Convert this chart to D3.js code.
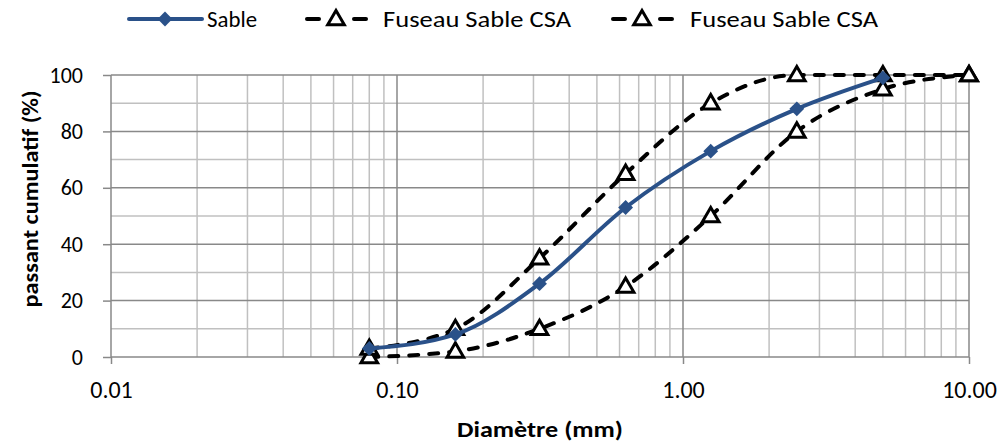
<html>
<head>
<script src="https://d3js.org/d3.v7.min.js"></script>
<style>
  body { margin: 0; background: #fff; }
  text { font-family: Carlito, Lato, "Open Sans", sans-serif; fill: #000; }
  .axis-title { font-size: 23px; font-weight: bold; }
  .legend-text { font-size: 23px; }
</style>
</head>
<body>
<svg width="1003" height="444" class="vis"></svg>
<script>
// sieve sizes (mm)
const sizes = [0.08, 0.16, 0.315, 0.63, 1.25, 2.5, 5, 10];
const sable = [3, 8, 26, 53, 73, 88, 99];
const fuseauHaut = [3, 10, 35, 65, 90, 100, 100, 100];
const fuseauBas = [0, 2, 10, 25, 50, 80, 95, 100];
const xTicks = [0.01, 0.1, 1, 10];
const yTicks = [0, 20, 40, 60, 80, 100];
const legendNames = ["Sable", "Fuseau Sable CSA", "Fuseau Sable CSA"];

const pLeft = 111, pRight = 969, pTop = 75, pBottom = 357;
const blue = "#2a5189";
const font = "Carlito, Lato, 'Open Sans', sans-serif";

const svg = d3.select(".vis");
const xs = d3.scaleLog().domain([0.01, 10]).range([pLeft, pRight]);
const ys = d3.scaleLinear().domain([0, 100]).range([pBottom, pTop]);

// grid
const minor = [];
for (let e = -2; e < 1; e++) for (let k = 2; k <= 9; k++) minor.push(k * Math.pow(10, e));
svg.append("g").selectAll("line").data(minor).enter().append("line")
  .attr("x1", d => xs(d)).attr("x2", d => xs(d))
  .attr("y1", pTop).attr("y2", pBottom)
  .attr("stroke", "#c0c0c0").attr("stroke-width", 1.5);
svg.append("g").selectAll("line").data(d3.range(10, 100, 20)).enter().append("line")
  .attr("x1", pLeft).attr("x2", pRight)
  .attr("y1", d => ys(d)).attr("y2", d => ys(d))
  .attr("stroke", "#c0c0c0").attr("stroke-width", 1.5);
svg.append("g").selectAll("line").data(yTicks.slice(1)).enter().append("line")
  .attr("x1", pLeft).attr("x2", pRight)
  .attr("y1", d => ys(d)).attr("y2", d => ys(d))
  .attr("stroke", "#898989").attr("stroke-width", 1.5);
svg.append("g").selectAll("line").data(xTicks.slice(1)).enter().append("line")
  .attr("x1", d => xs(d)).attr("x2", d => xs(d))
  .attr("y1", pTop).attr("y2", pBottom)
  .attr("stroke", "#898989").attr("stroke-width", 1.5);

// axes
const yAxis = d3.axisLeft(ys).tickValues(yTicks).tickSize(8).tickPadding(20).tickFormat(d3.format("d"));
const gy = svg.append("g").attr("transform", `translate(${pLeft},0)`).call(yAxis);
const xAxis = d3.axisBottom(xs).tickValues(xTicks).tickSize(7).tickPadding(17).tickFormat(d3.format(".2f"));
const gx = svg.append("g").attr("transform", `translate(0,${pBottom})`).call(xAxis);
[gx, gy].forEach(g => {
  g.attr("font-size", null).attr("font-family", null);
  g.select(".domain").attr("stroke", "#898989").attr("stroke-width", 1.5);
  g.selectAll(".tick line").attr("stroke", "#898989").attr("stroke-width", 1.5);
  g.selectAll(".tick text").style("font-family", font);
});
gy.selectAll(".tick text").style("font-size", "22px");
gx.selectAll(".tick text").style("font-size", "24px");
gy.select(".domain").attr("d", `M0,${pTop}V${pBottom}`);
gx.select(".domain").attr("d", `M${pLeft},0H${pRight}`);

svg.append("text").attr("class", "axis-title").attr("text-anchor", "middle")
  .attr("x", 540).attr("y", 437).attr("textLength", 166).attr("lengthAdjust", "spacingAndGlyphs")
  .text("Diamètre (mm)");
svg.append("text").attr("class", "axis-title").attr("text-anchor", "middle")
  .attr("transform", `translate(38,199) rotate(-90)`)
  .attr("textLength", 217).attr("lengthAdjust", "spacingAndGlyphs")
  .text("passant cumulatif (%)");

// series
const line = d3.line().x(d => xs(d[0])).y(d => ys(d[1])).curve(d3.curveMonotoneX);
const tri = d3.symbol().type(d3.symbolTriangle).size(120);
const squareDiamond = {
  draw(ctx, size) {
    const r = Math.sqrt(size / 2);
    ctx.moveTo(0, -r); ctx.lineTo(r, 0); ctx.lineTo(0, r); ctx.lineTo(-r, 0); ctx.closePath();
  }
};
const dia = d3.symbol().type(squareDiamond).size(110);

function dashedSeries(vals) {
  const pts = sizes.map((s, i) => [s, vals[i]]);
  svg.append("path").attr("d", line(pts)).attr("fill", "none")
    .attr("stroke", "#000").attr("stroke-width", 4).attr("stroke-dasharray", "9,11")
    .attr("stroke-linecap", "round");
  svg.append("g").selectAll("path").data(pts).enter().append("path")
    .attr("d", tri).attr("transform", d => `translate(${xs(d[0])},${ys(d[1]) + 1})`)
    .attr("fill", "#fff").attr("stroke", "#000").attr("stroke-width", 3);
}
dashedSeries(fuseauBas);
dashedSeries(fuseauHaut);

const sPts = sable.map((v, i) => [sizes[i], v]);
svg.append("path").attr("d", line(sPts)).attr("fill", "none")
  .attr("stroke", blue).attr("stroke-width", 4);
svg.append("g").selectAll("path").data(sPts).enter().append("path")
  .attr("d", dia).attr("transform", d => `translate(${xs(d[0])},${ys(d[1])})`)
  .attr("fill", blue);

// legend
const lg = svg.append("g");
const legX = [129, 305, 611];
const legText = [207, 383, 690];
const legLen = [50, 188, 188];
const ly = 19;
legX.forEach((x0, i) => {
  if (i === 0) {
    lg.append("line").attr("x1", x0).attr("x2", x0 + 73).attr("y1", ly).attr("y2", ly)
      .attr("stroke", blue).attr("stroke-width", 4).attr("stroke-linecap", "round");
    lg.append("path").attr("d", dia).attr("transform", `translate(${x0 + 36},${ly})`).attr("fill", blue);
  } else {
    lg.append("line").attr("x1", x0 + 2).attr("x2", x0 + 14).attr("y1", ly).attr("y2", ly)
      .attr("stroke", "#000").attr("stroke-width", 4).attr("stroke-linecap", "round");
    lg.append("line").attr("x1", x0 + 49).attr("x2", x0 + 61).attr("y1", ly).attr("y2", ly)
      .attr("stroke", "#000").attr("stroke-width", 4).attr("stroke-linecap", "round");
    lg.append("path").attr("d", tri).attr("transform", `translate(${x0 + 31},${ly + 1})`)
      .attr("fill", "#fff").attr("stroke", "#000").attr("stroke-width", 3);
  }
  lg.append("text").attr("class", "legend-text").attr("x", legText[i]).attr("y", ly + 8)
    .attr("textLength", legLen[i]).attr("lengthAdjust", "spacingAndGlyphs")
    .text(legendNames[i]);
});
</script>
</body>
</html>
